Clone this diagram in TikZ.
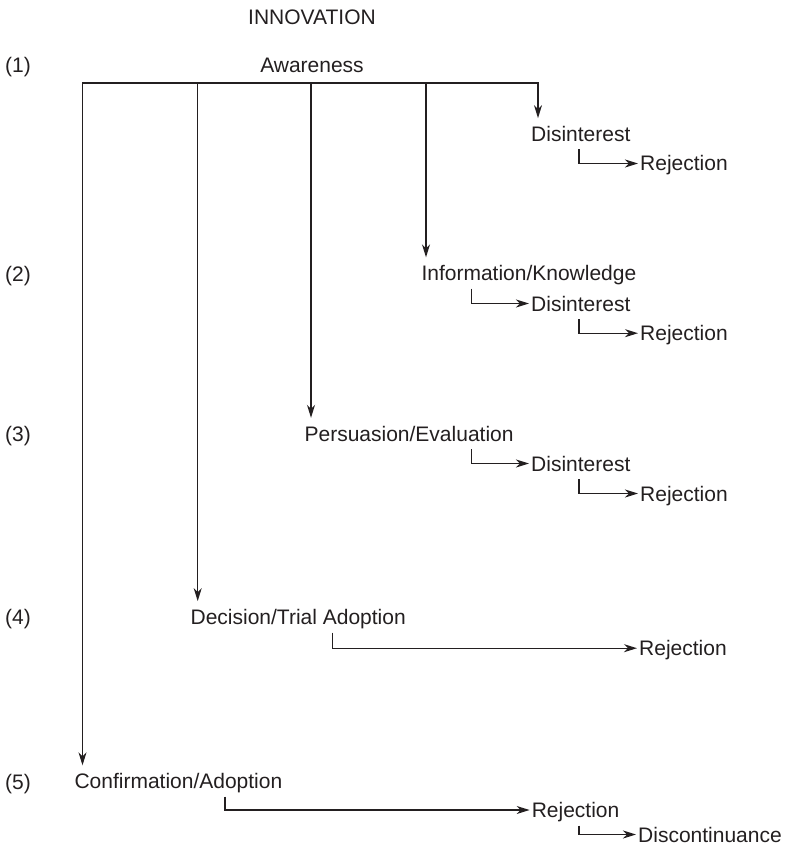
\documentclass[tikz,border=0pt]{standalone}
\usepackage{fontspec}
\setmainfont{Liberation Sans}
\usetikzlibrary{arrows.meta}
\definecolor{ink}{HTML}{231F20}
\begin{document}
\begin{tikzpicture}[x=1pt,y=-1pt,
  lbl/.style={font=\fontsize{21}{25}\selectfont, text=ink, inner xsep=2pt, inner ysep=8pt,
              text height=15pt, text depth=0pt, anchor=base west},
  conn/.style={draw=ink, line width=1.2pt, -{Stealth[length=13pt,width=8pt,inset=4pt]}},
  both/.style={draw=ink, line width=1.2pt, {Stealth[length=13pt,width=8pt,inset=4pt]}-{Stealth[length=13pt,width=8pt,inset=4pt]}}]
\useasboundingbox (0,0) rectangle (789,845);

% titles
\node[lbl, anchor=base] (inn) at (312,24.3) {INNOVATION};
\node[lbl, anchor=base] (aw) at (312,72.7) {Awareness};

% stage numbers
\node[lbl] (n1) at (3,72.5) {(1)};
\node[lbl] (n2) at (3,281) {(2)};
\node[lbl] (n3) at (3,441.5) {(3)};
\node[lbl] (n4) at (3,624.3) {(4)};
\node[lbl] (n5) at (3,789) {(5)};

% level 1
\node[lbl] (dis1) at (529,141.3) {Disinterest};
\node[lbl] (rej1) at (638,171) {Rejection};
% level 2
\node[lbl] (info) at (419.3,280.5) {Information/Knowledge};
\node[lbl] (dis2) at (529,311) {Disinterest};
\node[lbl] (rej2) at (638,340.7) {Rejection};
% level 3
\node[lbl] (pers) at (302.4,441) {Persuasion/Evaluation};
\node[lbl] (dis3) at (529,471) {Disinterest};
\node[lbl] (rej3) at (638,501) {Rejection};
% level 4
\node[lbl] (dec) at (188.4,624.3) {Decision/Trial Adoption};
\node[lbl] (rej4) at (637,655.7) {Rejection};
% level 5
\node[lbl] (conf) at (72.3,788.5) {Confirmation/Adoption};
\node[lbl] (rej5) at (529.6,817.5) {Rejection};
\node[lbl] (disc) at (636,842) {Discontinuance};

% columns of the distribution bar
\coordinate (c1) at (82.5,83);
\coordinate (c2) at (197.7,83);
\coordinate (c3) at (311,83);
\coordinate (c4) at (426,83);
\coordinate (c5) at (538,83);
% elbow columns
\coordinate (e1) at (471.3,0);
\coordinate (e2) at (579,0);
\coordinate (e3) at (332.7,0);
\coordinate (e4) at (225,0);

% distribution bar and downward arrows
\draw[both] (c1 |- conf.north) -- (c1) -- (c5) -- (c5 |- dis1.north);
\draw[conn] (c2) -- (c2 |- dec.north);
\draw[conn] (c3) -- (c3 |- pers.north);
\draw[conn] (c4) -- (c4 |- info.north);

% elbows
\draw[conn] (e2 |- dis1.south) |- (rej1.west);
\draw[conn] (e1 |- info.south) |- (dis2.west);
\draw[conn] (e2 |- dis2.south) |- (rej2.west);
\draw[conn] (e1 |- pers.south) |- (dis3.west);
\draw[conn] (e2 |- dis3.south) |- (rej3.west);
\draw[conn] (e3 |- dec.south) |- (rej4.west);
\draw[conn] (e4 |- conf.south) |- (rej5.west);
\draw[conn] (e2 |- rej5.south) |- (disc.west);
\end{tikzpicture}
\end{document}
